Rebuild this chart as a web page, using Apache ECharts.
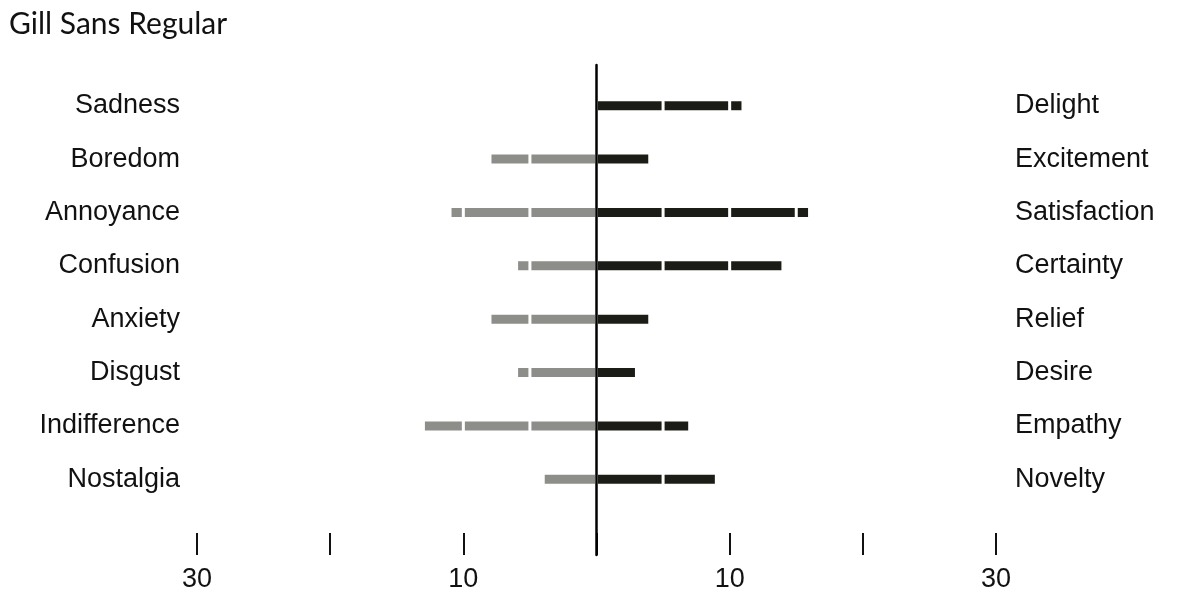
<!doctype html>
<html lang="en">
<head>
    <meta charset="UTF-8">
    <title>Gill Sans Regular</title>
    <script src="https://cdn.jsdelivr.net/npm/echarts@6.0.0/dist/echarts.min.js"></script>
    <style>
        html, body { margin: 0; padding: 0; background: #fff; }
        #main { width: 1200px; height: 601px; }
    </style>
</head>
<body>
<div id="main"></div>
<script type="text/javascript">
    // row labels, top to bottom
    var negLabels = ['Sadness', 'Boredom', 'Annoyance', 'Confusion', 'Anxiety', 'Disgust', 'Indifference', 'Nostalgia'];
    var posLabels = ['Delight', 'Excitement', 'Satisfaction', 'Certainty', 'Relief', 'Desire', 'Empathy', 'Novelty'];
    // counts
    var negValues = [0, 8, 11, 6, 8, 6, 13, 4];
    var posValues = [11, 4, 16, 14, 4, 3, 7, 9];
    // bottom axis
    var tickValues = [-30, -20, -10, 0, 10, 20, 30];
    var tickLabels = ['30', '', '10', '', '10', '', '30'];

    var segSize = 5;   // bars are cut every 5 units
    var segCount = 4;

    var darkColor = '#1c1c17';
    var greyColor = '#8d8d89';
    var labelFont = '"Liberation Sans", Arial, Helvetica, sans-serif';

    // piece k of a bar value, null when empty
    function piece(v, k) {
        var p = Math.min(Math.max(v - k * segSize, 0), segSize);
        return p > 0 ? p : null;
    }

    var myChart = echarts.init(document.getElementById('main'));

    var series = [];
    for (var k = 0; k < segCount; k++) {
        series.push({
            type: 'bar',
            name: 'neg' + k,
            xAxisIndex: 1,
            yAxisIndex: 1,
            stack: 'all',
            barWidth: 12,
            itemStyle: { color: greyColor, borderColor: '#fff', borderWidth: 1.5 },
            data: negValues.map(function (v) { var p = piece(v, k); return p === null ? null : -p; })
        });
        series.push({
            type: 'bar',
            name: 'pos' + k,
            xAxisIndex: 1,
            yAxisIndex: 1,
            stack: 'all',
            barWidth: 12,
            itemStyle: { color: darkColor, borderColor: '#fff', borderWidth: 1.5 },
            data: posValues.map(function (v) { return piece(v, k); })
        });
    }

    var option = {
        backgroundColor: '#fff',
        animation: false,
        title: {
            text: 'Gill Sans Regular',
            left: 4,
            top: 4,
            textStyle: { fontFamily: 'Lato, "Open Sans", sans-serif', fontWeight: 'normal', fontSize: 30, color: '#111' }
        },
        grid: [
            // centre line + bottom ticks
            { left: 197, right: 204, top: 65, bottom: 46 },
            // bars
            { left: 197, right: 204, top: 79, bottom: 95 }
        ],
        xAxis: [
            {
                gridIndex: 0,
                type: 'value',
                min: -30,
                max: 30,
                interval: 10,
                axisLine: { show: false },
                splitLine: { show: false },
                axisTick: { show: true, inside: true, length: 22, lineStyle: { color: '#111', width: 2 } },
                axisLabel: {
                    margin: 11,
                    fontSize: 27,
                    color: '#111',
                    fontFamily: labelFont,
                    formatter: function (v) {
                        var i = tickValues.indexOf(v);
                        return i >= 0 ? tickLabels[i] : '';
                    }
                }
            },
            {
                gridIndex: 1,
                type: 'value',
                min: -30,
                max: 30,
                show: false
            }
        ],
        yAxis: [
            {
                gridIndex: 0,
                type: 'value',
                min: 0,
                max: 1,
                z: 10,
                axisLine: { show: true, onZero: true, lineStyle: { color: '#000', width: 2.5 } },
                axisTick: { show: false },
                axisLabel: { show: false },
                splitLine: { show: false }
            },
            {
                gridIndex: 1,
                type: 'category',
                inverse: true,
                position: 'left',
                data: negLabels,
                axisLine: { show: false },
                axisTick: { show: false },
                axisLabel: { margin: 17, fontSize: 27, color: '#111', fontFamily: labelFont }
            },
            {
                gridIndex: 1,
                type: 'category',
                inverse: true,
                position: 'right',
                data: posLabels,
                axisLine: { show: false },
                axisTick: { show: false },
                axisLabel: { margin: 19, fontSize: 27, color: '#111', fontFamily: labelFont }
            }
        ],
        series: series
    };

    myChart.setOption(option);
</script>
</body>
</html>
